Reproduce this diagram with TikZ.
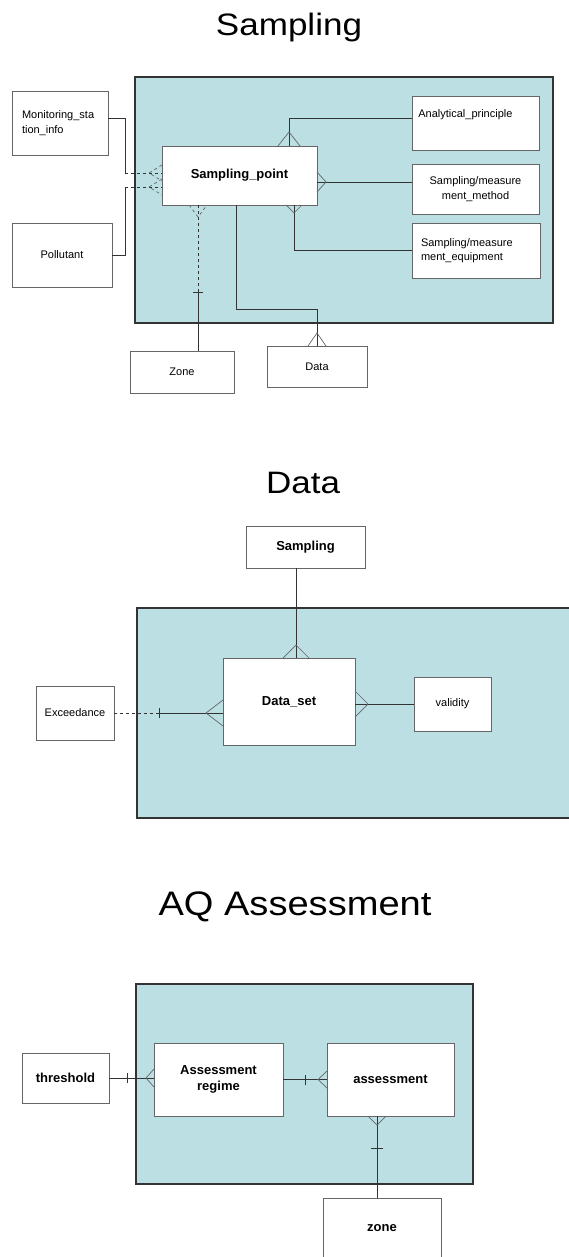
\documentclass[tikz,border=0pt]{standalone}
\usepackage{graphicx}
\usepackage{fontspec}
\setmainfont{Liberation Sans}
\definecolor{areablue}{HTML}{BBDFE2}

\begin{document}
\begin{tikzpicture}[x=1pt,y=-1pt]
\tikzset{area/.style={draw=black!80,line width=1.4pt,fill=areablue}}
\tikzset{entity/.style={rectangle,draw=black!60,fill=white,line width=0.8pt,align=center,font=\fontsize{11}{14.5}\selectfont}}
\tikzset{strong/.style={entity,font=\bfseries\fontsize{13}{16.5}\selectfont}}
\tikzset{link/.style={draw=black!80,line width=0.7pt}}
\tikzset{crow/.style={draw=black!60,line width=0.7pt}}
\tikzset{heading/.style={anchor=base,inner sep=0pt,font=\fontsize{31}{31}\selectfont}}

\useasboundingbox[fill=white] (0,0) rectangle (568,1257);

% Sampling
\node[heading] (t1) at (289,36) {\scalebox{1.13}[1]{Sampling}};
\draw[area] (135,77) rectangle (553,323);
\node[entity,minimum width=96pt,minimum height=64pt,text width=76pt,align=left] (mon) at (60,123) {Monitoring\_sta\\tion\_info};
\node[entity,minimum width=100pt,minimum height=64pt] (pol) at (62,255) {Pollutant};
\node[strong,minimum width=155pt,minimum height=59pt] (sp) at (239.5,175.5) {Sampling\_point};
\node[entity,minimum width=127pt,minimum height=54pt] (ana) at (475.5,123) {};
\node[entity,draw=none,fill=none,anchor=west] (anatext) at ([xshift=3pt,yshift=8pt]ana.west) {Analytical\_principle};
\node[entity,minimum width=127pt,minimum height=50pt] (meth) at (475.5,189) {Sampling/measure\\ment\_method};
\node[entity,minimum width=128pt,minimum height=55pt,text width=110pt,align=left] (equip) at (476,250.5) {Sampling/measure\\ment\_equipment};
\node[entity,minimum width=104pt,minimum height=42pt] (zone1) at (182,372) {Zone};
\node[entity,minimum width=100pt,minimum height=41pt] (data1) at (317,366.5) {Data};

\draw[link] ([yshift=5pt]mon.east) -| (125,173) coordinate (m1);
\draw[link,dashed] (m1) -- (m1 -| sp.west);
\draw[crow,dashed] (162,165) -- (149,173) -- (162,181);
\draw[link] (pol.east) -| (125,187) coordinate (p1);
\draw[link,dashed] (p1) -- (p1 -| sp.west);
\draw[crow,dashed] (162,179) -- (149,187) -- (162,195);

\draw[link,dashed] (sp.south -| 198,0) -- (198,292) coordinate (z1);
\draw[link] (z1) -- (z1 |- zone1.north);
\draw[link] (193,292) -- (203,292);
\draw[crow,dashed] (189,205) -- (198,217) -- (207,205);

\draw[link] (sp.south -| 236,0) |- (data1.north |- 0,309) -- (data1.north);
\draw[crow] (308,346) -- (317,333) -- (326,346);

\draw[link] (sp.north -| 289,0) |- (ana.west |- 0,118);
\draw[crow] (278,146) -- (289,132) -- (300,146);
\draw[link] (sp.east |- 0,182) -- (meth.west |- 0,182);
\draw[crow] (317,172) -- (326,182) -- (317,192);
\draw[link] (sp.south -| 294,0) |- (equip.west);
\draw[crow] (286,205) -- (294,213) -- (302,205);

% Data
\node[heading] (t2) at (303,493) {\scalebox{1.13}[1]{Data}};
\draw[area] (137,608) rectangle (572,818);
\node[strong,minimum width=119pt,minimum height=42pt] (samp2) at (305.5,547) {Sampling};
\node[strong,minimum width=132pt,minimum height=87pt] (dset) at (289,701.5) {Data\_set};
\node[entity,minimum width=78pt,minimum height=54pt] (exc) at (75,713) {Exceedance};
\node[entity,minimum width=77pt,minimum height=54pt] (valid) at (452.5,704) {validity};

\draw[link] (samp2.south -| 296,0) -- (dset.north -| 296,0);
\draw[crow] (283,658) -- (296,645) -- (309,658);
\draw[link,dashed] (exc.east) -- (159,713) coordinate (e1);
\draw[link] (e1) -- (e1 -| dset.west);
\draw[link] (159,708) -- (159,718);
\draw[crow] (223,700) -- (206,713) -- (223,726);
\draw[link] (dset.east |- valid.west) -- (valid.west);
\draw[crow] (355,691) -- (368,704) -- (355,717);

% AQ Assessment
\node[heading,font=\fontsize{34}{34}\selectfont] (t3) at (295,915) {\scalebox{1.12}[1]{AQ Assessment}};
\draw[area] (136,984) rectangle (473,1184);
\node[strong,minimum width=87pt,minimum height=50pt] (thr) at (65.5,1078) {threshold};
\node[strong,minimum width=129pt,minimum height=73pt] (reg) at (218.5,1079.5) {Assessment\\regime};
\node[strong,minimum width=127pt,minimum height=73pt] (ass) at (390.5,1079.5) {assessment};
\node[strong,minimum width=118pt,minimum height=60pt] (zone3) at (382,1228) {zone};

\draw[link] (thr.east) -- (thr.east -| reg.west);
\draw[link] (127,1073) -- (127,1083);
\draw[crow] (154,1069) -- (146,1078) -- (154,1087);
\draw[link] (reg.east) -- (reg.east -| ass.west);
\draw[link] (305,1075) -- (305,1085);
\draw[crow] (327,1071) -- (318,1079.5) -- (327,1088);
\draw[link] (ass.south -| 377,0) -- (zone3.north -| 377,0);
\draw[crow] (368,1116) -- (377,1125) -- (386,1116);
\draw[link] (371,1148) -- (383,1148);

\end{tikzpicture}
\end{document}
